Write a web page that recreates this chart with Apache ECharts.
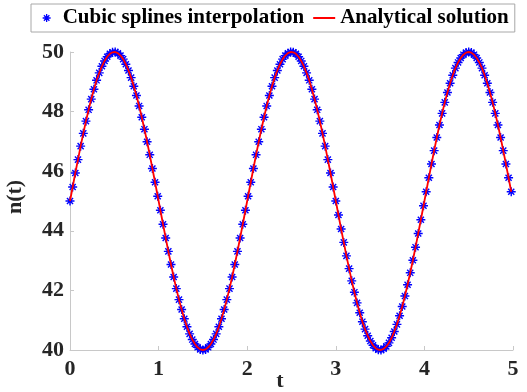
<!DOCTYPE html>
<html>
<head>
<meta charset="utf-8">
<style>
  html, body { margin: 0; padding: 0; background: #fff; }
  #chart { width: 527px; height: 392px; }
</style>
<script src="https://cdn.jsdelivr.net/npm/echarts@6/dist/echarts.min.js"></script>
</head>
<body>
<div id="chart"></div>
<script>
// Sampling step of the time grid (t = 0, 0.03, ..., 4.98)
const tStep = 0.03;

// n(t) values at each sample
const nValues = [
  45.00, 45.47, 45.94, 46.39, 46.84, 47.27, 47.68, 48.06, 48.42, 48.75,
  49.05, 49.30, 49.52, 49.70, 49.84, 49.94, 49.99, 50.00, 49.96, 49.88,
  49.76, 49.59, 49.38, 49.14, 48.85, 48.54, 48.19, 47.81, 47.41, 46.99,
  46.55, 46.09, 45.63, 45.16, 44.69, 44.22, 43.76, 43.31, 42.87, 42.45,
  42.06, 41.69, 41.36, 41.05, 40.78, 40.54, 40.35, 40.20, 40.09, 40.02,
  40.00, 40.02, 40.09, 40.20, 40.35, 40.54, 40.78, 41.05, 41.36, 41.69,
  42.06, 42.45, 42.87, 43.31, 43.76, 44.22, 44.69,
  45.16, 45.63, 46.09, 46.55, 46.99, 47.41, 47.81, 48.19, 48.54, 48.85,
  49.14, 49.38, 49.59, 49.76, 49.88, 49.96, 50.00, 49.99, 49.94, 49.84,
  49.70, 49.52, 49.30, 49.05, 48.75, 48.42, 48.06, 47.68, 47.27, 46.84,
  46.39, 45.94, 45.47, 45.00, 44.53, 44.06, 43.61, 43.16, 42.73, 42.32,
  41.94, 41.58, 41.25, 40.95, 40.70, 40.48, 40.30, 40.16, 40.06, 40.01,
  40.00, 40.04, 40.12, 40.24, 40.41, 40.62, 40.86, 41.15, 41.46, 41.81,
  42.19, 42.59, 43.01, 43.45, 43.91, 44.37, 44.84,
  45.31, 45.78, 46.24, 46.69, 47.13, 47.55, 47.94, 48.31, 48.64, 48.95,
  49.22, 49.46, 49.65, 49.80, 49.91, 49.98, 50.00, 49.98, 49.91, 49.80,
  49.65, 49.46, 49.22, 48.95, 48.64, 48.31, 47.94, 47.55, 47.13, 46.69,
  46.24, 45.78, 45.31
];

const seriesNames = ['Cubic splines interpolation', 'Analytical solution'];
const xTicks = { min: 0, max: 5, interval: 1 };
const yTicks = { min: 40, max: 50, interval: 2 };

const tValues = nValues.map((_, i) => +(i * tStep).toFixed(2));
const points = tValues.map((t, i) => [t, nValues[i]]);

const serif = "'Liberation Serif', 'Times New Roman', serif";
const axisGray = '#c8c8c8';
const labelColor = '#262626';
const asterisk = 'path://M5,0L5,10M0,5L10,5M1.6,1.6L8.4,8.4M8.4,1.6L1.6,8.4';
const dash = 'path://M0,0L22,0L22,2L0,2Z';

const chart = echarts.init(document.getElementById('chart'), null, { renderer: 'canvas' });

const axisCommon = {
  type: 'value',
  nameMoveOverlap: false,
  axisLine: { show: true, lineStyle: { color: axisGray, width: 1 } },
  axisTick: { show: true, inside: true, length: 4, lineStyle: { color: axisGray } },
  splitLine: { show: false },
  axisLabel: { color: labelColor, fontFamily: serif, fontWeight: 'bold', fontSize: 22 },
  nameTextStyle: { color: labelColor, fontFamily: serif, fontWeight: 'bold', fontSize: 22 }
};

chart.setOption({
  animation: false,
  backgroundColor: '#fff',
  grid: { left: 70, right: 14, top: 52, bottom: 42, containLabel: false, outerBoundsMode: 'none' },
  legend: {
    left: 31,
    top: 4,
    padding: [3, 6, 3, 11],
    itemWidth: 22,
    itemHeight: 8,
    itemGap: 9,
    borderColor: '#a8a8a8',
    borderWidth: 1,
    backgroundColor: '#fff',
    textStyle: { fontFamily: serif, fontWeight: 'bold', fontSize: 21, color: '#000', lineHeight: 22 },
    data: [
      { name: seriesNames[0], icon: asterisk, itemStyle: { color: '#0000ff', borderColor: '#0000ff', borderWidth: 1.3 } },
      { name: seriesNames[1], icon: dash, itemStyle: { color: '#ff0000', borderWidth: 0 } }
    ]
  },
  xAxis: Object.assign({}, axisCommon, {
    min: xTicks.min, max: xTicks.max, interval: xTicks.interval,
    name: 't', nameLocation: 'middle', nameGap: 20,
    nameTextStyle: Object.assign({}, axisCommon.nameTextStyle, { padding: [0, 23, 0, 0] }),
    axisLabel: Object.assign({}, axisCommon.axisLabel, { margin: 8 })
  }),
  yAxis: Object.assign({}, axisCommon, {
    min: yTicks.min, max: yTicks.max, interval: yTicks.interval,
    name: 'n(t)', nameLocation: 'middle', nameGap: 44, nameRotate: 90,
    nameTextStyle: Object.assign({}, axisCommon.nameTextStyle, { padding: [0, 0, 0, 8] }),
    axisLabel: Object.assign({}, axisCommon.axisLabel, { margin: 6 })
  }),
  series: [
    {
      name: seriesNames[0],
      type: 'scatter',
      data: points,
      symbol: asterisk,
      symbolSize: 9,
      itemStyle: { color: '#0000ff', borderColor: '#0000ff', borderWidth: 1.4, opacity: 1 },
      z: 2
    },
    {
      name: seriesNames[1],
      type: 'line',
      data: points,
      symbol: 'none',
      showSymbol: false,
      lineStyle: { color: '#ff0000', width: 1.8 },
      itemStyle: { color: '#ff0000' },
      z: 3
    }
  ]
});
</script>
</body>
</html>
